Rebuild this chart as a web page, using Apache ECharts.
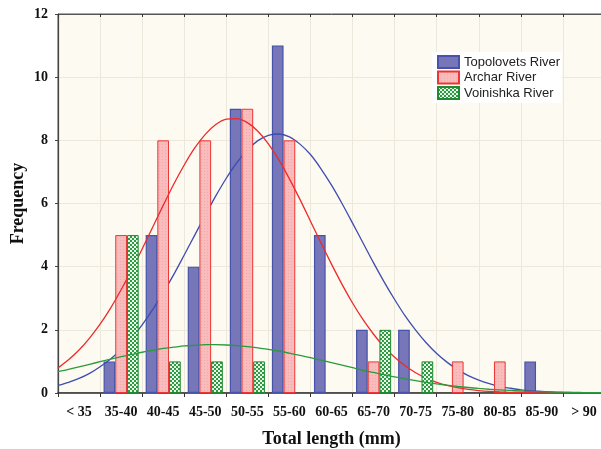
<!DOCTYPE html>
<html><head><meta charset="utf-8">
<script src="https://cdn.jsdelivr.net/npm/echarts@6/dist/echarts.min.js"></script>
<style>html,body{margin:0;padding:0;background:#fff;overflow:hidden;width:601px;height:449px}#c{width:606px;height:449px}</style>
</head><body><div id="c"></div>
<script>
// ---- data ----
const categories = ['< 35','35-40','40-45','45-50','50-55','55-60','60-65','65-70','70-75','75-80','80-85','85-90','> 90'];
const topolovets = [0,1,5,4,9,11,5,2,2,0,0,1,0];
const archar     = [0,5,8,8,9,8,0,1,0,1,1,0,0];
const voinishka  = [0,5,1,1,1,0,0,2,1,0,0,0,0];
const yTicks = [0,2,4,6,8,10,12];
// fitted curves, every 1.25 mm (x = total length, mm, 30 .. 95)
const curveX = [30,31.25,32.5,33.75,35,36.25,37.5,38.75,40,41.25,42.5,43.75,45,46.25,47.5,48.75,50,51.25,52.5,53.75,55,56.25,57.5,58.75,60,61.25,62.5,63.75,65,66.25,67.5,68.75,70,71.25,72.5,73.75,75,76.25,77.5,78.75,80,81.25,82.5,83.75,85,86.25,87.5,88.75,90,91.25,92.5,93.75,95];
const topolovetsCurve = [0.24,0.34,0.46,0.62,0.83,1.08,1.38,1.74,2.16,2.64,3.18,3.75,4.37,5.00,5.63,6.24,6.80,7.29,7.69,7.99,8.16,8.20,8.11,7.88,7.55,7.10,6.58,6.00,5.38,4.75,4.12,3.52,2.96,2.44,1.99,1.59,1.25,0.97,0.74,0.55,0.41,0.30,0.21,0.15,0.10,0.07,0.05,0.03,0.02,0.013,0.008,0.005,0.003];
const archarCurve     = [0.79,1.05,1.36,1.74,2.18,2.69,3.27,3.89,4.56,5.25,5.94,6.61,7.22,7.76,8.19,8.50,8.67,8.69,8.56,8.29,7.89,7.38,6.78,6.13,5.44,4.75,4.08,3.44,2.85,2.32,1.86,1.46,1.13,0.86,0.64,0.47,0.34,0.24,0.17,0.115,0.077,0.051,0.033,0.021,0.013,0.008,0.005,0.003,0.002,0.001,0.001,0,0];
const voinishkaCurve  = [0.68,0.75,0.83,0.91,0.99,1.07,1.15,1.22,1.29,1.35,1.41,1.45,1.49,1.51,1.53,1.53,1.52,1.50,1.47,1.43,1.38,1.33,1.26,1.19,1.12,1.04,0.96,0.88,0.80,0.72,0.65,0.58,0.51,0.45,0.39,0.34,0.29,0.245,0.207,0.174,0.144,0.119,0.098,0.080,0.064,0.052,0.041,0.032,0.025,0.020,0.015,0.012,0.009];

function pattern(bg, fg, size, cells){
  const cv=document.createElement('canvas'); cv.width=size; cv.height=size;
  const g=cv.getContext('2d'); g.fillStyle=bg; g.fillRect(0,0,size,size);
  g.fillStyle=fg; cells.forEach(c=>g.fillRect(c[0],c[1],c[2],c[3]));
  return {image:cv, repeat:'repeat'};
}
const greenPat = pattern('#2f9a44','#e8f6e8',4,[[0,0,2,2],[2,2,2,2]]);
const pinkPat  = pattern('#f8bcbc','#f3a9a9',3,[[0,0,1,1]]);

const nz = a => a.map(v => v === 0 ? null : v);
const pts = a => curveX.map((x,i)=>[x,a[i]]);
const serif = '"Liberation Serif","Times New Roman",serif';

const chart = echarts.init(document.getElementById('c'), null, {renderer:'canvas'});
chart.setOption({
  animation:false,
  backgroundColor:'#ffffff',
  grid:{left:58, top:14, right:1, bottom:56, containLabel:false, outerBoundsMode:'none',
        show:true, backgroundColor:'#fdfaf1', borderColor:'#555', borderWidth:1},
  legend:{
    data:['Topolovets River','Archar River','Voinishka River'],
    orient:'vertical', left:432, top:52, itemWidth:21, itemHeight:12, itemGap:1.5,
    backgroundColor:'#ffffff', padding:[3,2,3,5], icon:'rect',
    textStyle:{fontFamily:'"Liberation Sans",Arial,sans-serif', fontSize:13, lineHeight:13, color:'#222'}
  },
  xAxis:[{
    type:'category', data:categories, position:'bottom',
    name:'Total length (mm)', nameLocation:'middle', nameGap:37,
    nameTextStyle:{fontFamily:serif, fontWeight:'bold', fontSize:18, color:'#111'},
    axisLine:{lineStyle:{color:'#333', width:1.5}},
    axisTick:{show:true, length:4, lineStyle:{color:'#333'}},
    axisLabel:{fontFamily:serif, fontWeight:'bold', fontSize:14, color:'#111', margin:12, interval:0},
    splitLine:{show:true, lineStyle:{color:'#ece8dc', width:1}}
  },{
    type:'value', min:30, max:95, interval:5, position:'top',
    axisLine:{show:true, lineStyle:{color:'#555'}},
    axisTick:{show:true, inside:true, length:3, lineStyle:{color:'#333'}},
    axisLabel:{show:false}, splitLine:{show:false}
  }],
  yAxis:{
    type:'value', min:yTicks[0], max:yTicks[yTicks.length-1], interval:2,
    name:'Frequency', nameLocation:'middle', nameGap:31, nameMoveOverlap:false,
    nameTextStyle:{fontFamily:serif, fontWeight:'bold', fontSize:18, color:'#111'},
    axisLine:{show:true, lineStyle:{color:'#444', width:1.2}},
    axisTick:{show:true, length:3, lineStyle:{color:'#444'}},
    axisLabel:{fontFamily:serif, fontWeight:'bold', fontSize:14, color:'#111', margin:10},
    splitLine:{show:true, lineStyle:{color:'#ece8dc', width:1}}
  },
  series:[
    {name:'Topolovets River', type:'bar', data:nz(topolovets), barWidth:11.7, barGap:'0%', z:2,
     itemStyle:{color:'#7676b9', borderColor:'#4753a8', borderWidth:1.2}},
    {name:'Topolovets fit', type:'line', xAxisIndex:1, data:pts(topolovetsCurve), smooth:0.3, showSymbol:false, z:3,
     lineStyle:{color:'#3d4db0', width:1.3}},
    {name:'Archar River', type:'bar', data:nz(archar), barWidth:11.7, barGap:'0%', z:4,
     itemStyle:{color:pinkPat, borderColor:'#ee3434', borderWidth:1}},
    {name:'Archar fit', type:'line', xAxisIndex:1, data:pts(archarCurve), smooth:0.3, showSymbol:false, z:5,
     lineStyle:{color:'#ee2a2a', width:1.3}},
    {name:'Voinishka River', type:'bar', data:nz(voinishka), barWidth:11.7, barGap:'0%', z:6,
     itemStyle:{color:greenPat, borderColor:'#1f8a32', borderWidth:1}},
    {name:'Voinishka fit', type:'line', xAxisIndex:1, data:pts(voinishkaCurve), smooth:0.3, showSymbol:false, z:7,
     lineStyle:{color:'#2a9a3c', width:1.3}}
  ]
});
</script></body></html>
